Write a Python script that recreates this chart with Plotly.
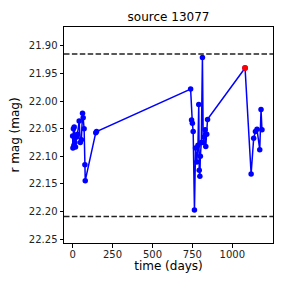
import plotly.graph_objects as go

days = [0, 2, 5, 8, 10, 14, 18, 25, 30, 41, 48, 55, 62, 66, 72, 77, 79, 145, 150,
        739, 745, 750, 755, 763, 770, 778, 785, 790, 793, 797, 800, 806, 813, 818, 824,
        830, 834, 840, 845, 1080, 1118, 1134, 1145, 1155, 1172, 1180, 1186]
mags = [22.063, 22.085, 22.050, 22.080, 22.047, 22.075, 22.083, 22.065, 22.060, 22.036,
        22.075, 22.070, 22.022, 22.030, 22.050, 22.115, 22.144, 22.057, 22.055,
        21.978, 22.034, 22.040, 22.055, 22.197, 22.085, 22.110, 22.080, 22.006, 22.125,
        22.136, 22.100, 22.075, 21.921, 22.075, 22.065, 22.052, 22.082, 22.060, 22.033,
        21.940, 22.132, 22.067, 22.055, 22.051, 22.088, 22.015, 22.052]
flare_day = [1080]
flare_mag = [21.940]
limits = [21.9146, 22.209]
xticks = [0, 250, 500, 750, 1000]
yticks = [21.90, 21.95, 22.00, 22.05, 22.10, 22.15, 22.20, 22.25]

fig = go.Figure()
for v in limits:
    fig.add_hline(y=v, line=dict(color="#222", dash="5.5px,2.4px", width=1.5))
fig.add_trace(go.Scatter(x=days, y=mags, mode="lines+markers",
                         line=dict(color="blue", width=1.5),
                         marker=dict(color="blue", size=5.5), showlegend=False))
fig.add_trace(go.Scatter(x=flare_day, y=flare_mag, mode="markers",
                         marker=dict(color="red", size=6), showlegend=False))

axis_common = dict(showgrid=False, zeroline=False, showline=True, linecolor="black",
                   linewidth=1, mirror=True, ticks="outside", ticklen=3.5,
                   tickcolor="black", tickfont=dict(size=10, color="#222"),
                   title_font=dict(size=12, color="black"), automargin=False)
fig.update_xaxes(range=[-54, 1255], tickvals=xticks, title_text="time (days)",
                 title_standoff=0, ticklabelstandoff=-2, **axis_common)
fig.update_yaxes(range=[22.257, 21.8656], tickvals=yticks, tickformat=".2f",
                 title_text="r mag (mag)", title_standoff=6, **axis_common)
fig.update_layout(width=288, height=288, margin=dict(l=64, r=15, t=27, b=45),
                  plot_bgcolor="white", paper_bgcolor="white",
                  font=dict(family="DejaVu Sans", color="black"),
                  title=dict(text="source 13077", x=0.5, xref="paper", y=0.94,
                             yanchor="middle", font=dict(size=12)))
fig.write_html("out.html", config={"displayModeBar": False},
               post_script="document.body.style.margin='0';")
